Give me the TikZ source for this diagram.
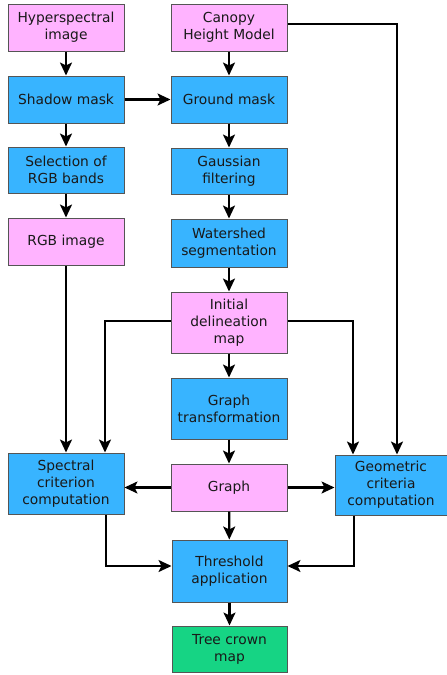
\documentclass[tikz,border=0pt]{standalone}
\usepackage{fontspec}
\setmainfont{DejaVu Sans}
\usetikzlibrary{arrows.meta}

\definecolor{pinkfill}{RGB}{255,179,255}
\definecolor{bluefill}{RGB}{56,180,255}
\definecolor{greenfill}{RGB}{22,212,132}
\definecolor{boxline}{RGB}{85,85,85}

\begin{document}
\begin{tikzpicture}[x=1pt,y=-1pt,
    box/.style={draw=boxline,line width=1pt,minimum width=116pt,align=center,
      text=black!90,font=\fontsize{13.8}{17}\selectfont,inner sep=2pt},
    input/.style={box,fill=pinkfill},
    proc/.style={box,fill=bluefill},
    result/.style={box,fill=greenfill},
    arr/.style={line width=2.2pt,-{Stealth[length=13pt,width=12pt,inset=3pt]}}]
  \useasboundingbox (0,0) rectangle (447,675);

  % inputs
  \node[input,minimum height=47pt] (hyper) at (66,27.5) {Hyperspectral\\image};
  \node[input,minimum height=47pt] (chm) at (229,27.5) {Canopy\\Height Model};

  % left column
  \node[proc,minimum height=47pt] (shadow) at (66,99.5) {Shadow mask};
  \node[proc,minimum height=46pt] (bands) at (66,170) {Selection of\\RGB bands};
  \node[input,minimum height=47pt] (rgb) at (66,241.5) {RGB image};
  \node[proc,minimum height=61pt] (spectral) at (66,483.5) {Spectral\\criterion\\computation};

  % center column
  \node[proc,minimum height=47pt] (ground) at (229,99.5) {Ground mask};
  \node[proc,minimum height=46pt] (gauss) at (229,171) {Gaussian\\filtering};
  \node[proc,minimum height=48pt] (water) at (229,243) {Watershed\\segmentation};
  \node[input,minimum height=61pt] (init) at (229,322.5) {Initial\\delineation\\map};
  \node[proc,minimum height=61pt] (gtrans) at (229,408.5) {Graph\\transformation};
  \node[input,minimum height=47pt] (graph) at (229,487.5) {Graph};
  \node[proc,minimum height=62pt,minimum width=115pt] (thresh) at (229.5,571) {Threshold\\application};
  \node[result,minimum height=46pt,minimum width=115pt] (tree) at (229.5,649) {Tree crown\\map};

  % right column
  \node[proc,minimum height=60pt,minimum width=112pt] (geom) at (391,485) {Geometric\\criteria\\computation};

  % bends
  \coordinate (chmturn) at (397,24);
  \coordinate (specin) at (105,321);
  \coordinate (geomin) at (353,321);
  \coordinate (specout) at (106,566);
  \coordinate (geomout) at (354,566);

  \draw[arr] (hyper) -- (shadow);
  \draw[arr] (chm) -- (ground);
  \draw[arr] (shadow) -- (ground);
  \draw[arr] (shadow) -- (bands);
  \draw[arr] (bands) -- (rgb);
  \draw[arr] (rgb) -- (spectral);

  \draw[arr] (ground) -- (gauss);
  \draw[arr] (gauss) -- (water);
  \draw[arr] (water) -- (init);
  \draw[arr] (init) -- (gtrans);
  \draw[arr] (gtrans) -- (graph);
  \draw[arr] (graph) -- (thresh);
  \draw[arr] (thresh) -- (tree);

  \draw[arr] (chm.east |- chmturn) -- (chmturn) -- (chmturn |- geom.north);
  \draw[arr] (init.west |- specin) -- (specin) -- (specin |- spectral.north);
  \draw[arr] (init.east |- geomin) -- (geomin) -- (geomin |- geom.north);

  \draw[arr] (graph.west) -- (graph.west -| spectral.east);
  \draw[arr] (graph.east) -- (graph.east -| geom.west);

  \draw[arr] (specout |- spectral.south) -- (specout) -- (thresh.west |- specout);
  \draw[arr] (geomout |- geom.south) -- (geomout) -- (thresh.east |- geomout);
\end{tikzpicture}
\end{document}
